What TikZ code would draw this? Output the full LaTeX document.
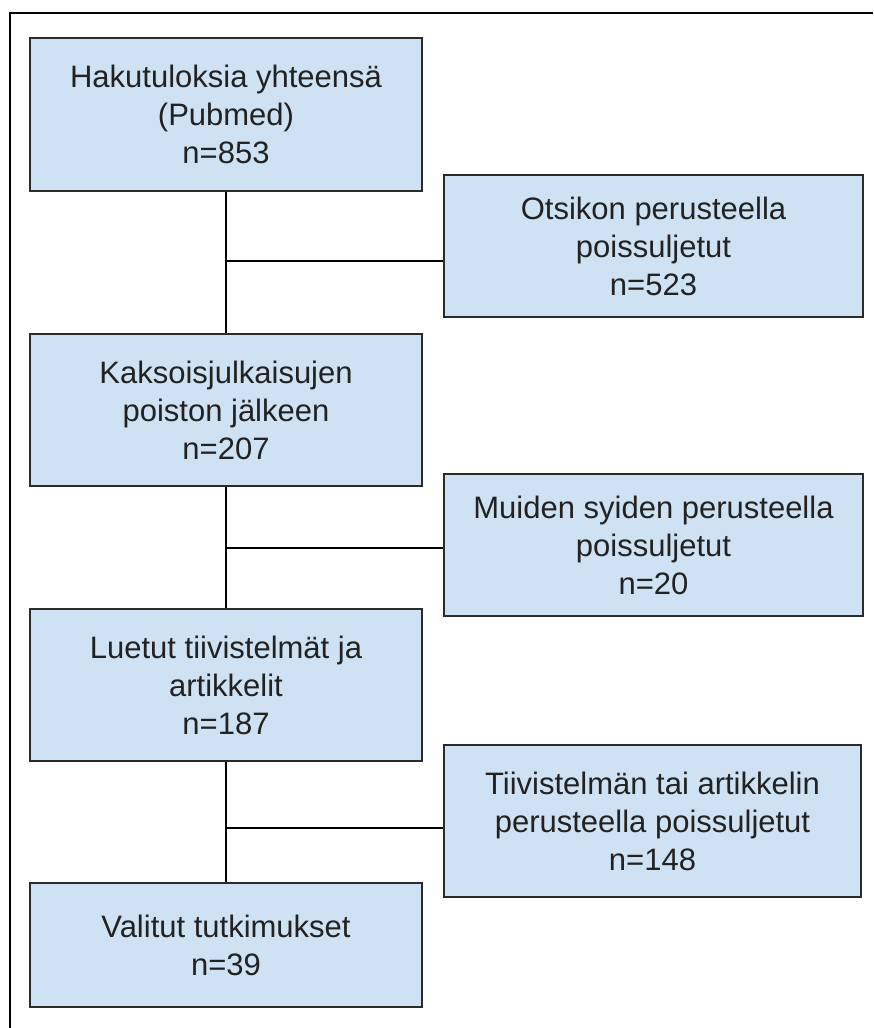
\documentclass[tikz,border=0pt]{standalone}
\usepackage{fontspec}
\setmainfont{Liberation Sans}
\definecolor{boxfill}{HTML}{CFE2F3}
\definecolor{boxline}{HTML}{2B2B2B}
\definecolor{txt}{HTML}{222222}
\begin{document}
\begin{tikzpicture}[x=1pt,y=-1pt,
  flowbox/.style={draw=boxline,fill=boxfill,line width=1.6pt,align=center,
    text=txt,font=\fontsize{31}{38}\selectfont,inner sep=0pt},
  mainbox/.style={flowbox,minimum width=392pt},
  sidebox/.style={flowbox,minimum width=419pt},
  conn/.style={draw=black,line width=1.5pt}]
\useasboundingbox (0,0) rectangle (873,1028);
\fill[white] (0,0) rectangle (873,1028);
\draw[line width=2.2pt,black] (10,1028) -- (10,13) -- (873,13);
\node[mainbox,minimum height=153pt] (b1) at (226,114.5) {Hakutuloksia yhteensä\\(Pubmed)\\n=853};
\node[mainbox,minimum height=152pt] (b2) at (226,410) {Kaksoisjulkaisujen\\poiston jälkeen\\n=207};
\node[mainbox,minimum height=152pt] (b3) at (226,685) {Luetut tiivistelmät ja\\artikkelit\\n=187};
\node[mainbox,minimum height=124pt] (b4) at (226,945) {Valitut tutkimukset\\n=39};
\node[sidebox,minimum height=142pt] (r1) at (653.5,246) {Otsikon perusteella\\poissuljetut\\n=523};
\node[sidebox,minimum height=142pt] (r2) at (653.5,545) {Muiden syiden perusteella\\poissuljetut\\n=20};
\node[sidebox,minimum height=152pt,minimum width=417pt] (r3) at (652.5,821) {Tiivistelmän tai artikkelin\\perusteella poissuljetut\\n=148};
\coordinate (j1) at (226,261);
\coordinate (j2) at (226,548);
\coordinate (j3) at (226,828);
\draw[conn] (b1.south) -- (b2.north);
\draw[conn] (b2.south) -- (b3.north);
\draw[conn] (b3.south) -- (b4.north);
\draw[conn] (j1) -- (j1 -| r1.west);
\draw[conn] (j2) -- (j2 -| r2.west);
\draw[conn] (j3) -- (j3 -| r3.west);
\end{tikzpicture}
\end{document}
